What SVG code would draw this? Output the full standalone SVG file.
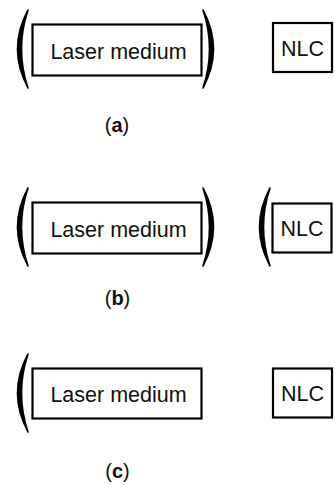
<svg xmlns="http://www.w3.org/2000/svg" width="335" height="485" viewBox="0 0 335 485">
<style>
.box{fill:#fff;stroke:#000;stroke-width:2.2}
.t{font-family:"Liberation Sans",Arial,sans-serif;font-size:21.5px;fill:#111;text-anchor:middle}
.lbl{font-family:"Liberation Sans",Arial,sans-serif;font-size:20px;fill:#111;text-anchor:middle}
.p{fill:#000;stroke:#000;stroke-width:1.6;stroke-linejoin:round}
</style>
<defs>
<path id="lp" class="p" d="M10,0 Q-11,39 10,78 Q-3,39 10,0 Z"/>
<path id="rp" class="p" d="M0,0 Q21,39 0,78 Q13,39 0,0 Z"/>
</defs>
<rect width="335" height="485" fill="#fff"/>
<g id="row-a">
<g id="a-mirror-left"><use href="#lp" x="18" y="10"/></g>
<g id="a-laser"><rect class="box" x="32.5" y="24.5" width="169" height="51"/><text class="t" x="118.5" y="58.5">Laser medium</text></g>
<g id="a-mirror-right"><use href="#rp" x="203" y="10"/></g>
<g id="a-nlc"><rect class="box" x="273" y="23" width="59" height="49"/><text class="t" x="302.5" y="56">NLC</text></g>
<text class="lbl" x="117" y="132">(<tspan font-weight="bold">a</tspan>)</text>
</g>
<g id="row-b">
<g id="b-mirror-left"><use href="#lp" x="18" y="188"/></g>
<g id="b-laser"><rect class="box" x="32.5" y="202.5" width="169" height="51"/><text class="t" x="118.5" y="236.5">Laser medium</text></g>
<g id="b-mirror-right"><use href="#rp" x="203" y="188"/></g>
<g id="b-mirror-nlc"><use href="#lp" x="260" y="188"/></g>
<g id="b-nlc"><rect class="box" x="272.5" y="203.5" width="59" height="49"/><text class="t" x="302" y="236">NLC</text></g>
<text class="lbl" x="117.5" y="305">(<tspan font-weight="bold">b</tspan>)</text>
</g>
<g id="row-c">
<g id="c-mirror-left"><use href="#lp" x="18" y="354"/></g>
<g id="c-laser"><rect class="box" x="32.5" y="368.5" width="169" height="50"/><text class="t" x="118.5" y="401.5">Laser medium</text></g>
<g id="c-nlc"><rect class="box" x="273" y="368.5" width="59" height="49"/><text class="t" x="302.5" y="401">NLC</text></g>
<text class="lbl" x="117.5" y="478">(<tspan font-weight="bold">c</tspan>)</text>
</g>
</svg>
